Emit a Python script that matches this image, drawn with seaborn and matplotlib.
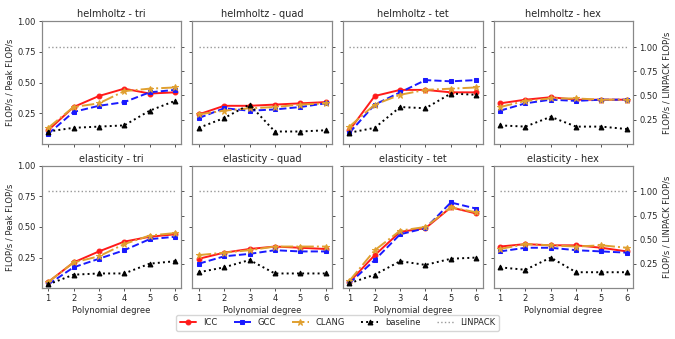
import pandas as pd
import matplotlib
matplotlib.use("Agg")
import matplotlib.pyplot as plt
import seaborn as sns

# polynomial degrees on the x axis
degrees = [1, 2, 3, 4, 5, 6]

panels = [
    "helmholtz - tri", "helmholtz - quad", "helmholtz - tet", "helmholtz - hex",
    "elasticity - tri", "elasticity - quad", "elasticity - tet", "elasticity - hex",
]

# FLOP/s / Peak FLOP/s, one row per panel
icc = [
    [0.11, 0.30, 0.39, 0.45, 0.41, 0.42],
    [0.24, 0.31, 0.31, 0.32, 0.33, 0.34],
    [0.11, 0.39, 0.44, 0.44, 0.42, 0.42],
    [0.33, 0.36, 0.38, 0.36, 0.36, 0.36],
    [0.05, 0.21, 0.30, 0.38, 0.42, 0.44],
    [0.24, 0.29, 0.32, 0.34, 0.33, 0.32],
    [0.05, 0.27, 0.46, 0.49, 0.66, 0.61],
    [0.34, 0.36, 0.35, 0.35, 0.33, 0.30],
]
gcc = [
    [0.08, 0.26, 0.31, 0.34, 0.42, 0.44],
    [0.21, 0.29, 0.27, 0.28, 0.30, 0.33],
    [0.09, 0.32, 0.42, 0.52, 0.51, 0.52],
    [0.27, 0.33, 0.36, 0.35, 0.36, 0.36],
    [0.03, 0.17, 0.24, 0.31, 0.40, 0.42],
    [0.20, 0.26, 0.28, 0.31, 0.30, 0.30],
    [0.04, 0.23, 0.44, 0.49, 0.70, 0.65],
    [0.30, 0.33, 0.33, 0.31, 0.30, 0.29],
]
clang = [
    [0.13, 0.30, 0.33, 0.43, 0.45, 0.46],
    [0.24, 0.27, 0.29, 0.30, 0.32, 0.33],
    [0.14, 0.32, 0.40, 0.44, 0.45, 0.46],
    [0.30, 0.35, 0.37, 0.37, 0.36, 0.36],
    [0.05, 0.21, 0.26, 0.36, 0.43, 0.45],
    [0.27, 0.29, 0.31, 0.34, 0.34, 0.34],
    [0.06, 0.31, 0.47, 0.50, 0.66, 0.62],
    [0.32, 0.36, 0.35, 0.34, 0.35, 0.33],
]
baseline = [
    [0.10, 0.13, 0.14, 0.15, 0.27, 0.35],
    [0.13, 0.21, 0.32, 0.10, 0.10, 0.11],
    [0.09, 0.13, 0.30, 0.29, 0.41, 0.40],
    [0.15, 0.14, 0.22, 0.14, 0.14, 0.12],
    [0.03, 0.11, 0.12, 0.12, 0.20, 0.22],
    [0.13, 0.17, 0.23, 0.12, 0.12, 0.12],
    [0.04, 0.11, 0.22, 0.19, 0.24, 0.25],
    [0.17, 0.15, 0.25, 0.13, 0.13, 0.13],
]
linpack_ratio = 0.79  # LINPACK FLOP/s / Peak FLOP/s

series = [
    ("ICC", icc, "#ff1a1a", "-", "o", 3.5),
    ("GCC", gcc, "#1a1aff", "--", "s", 3.5),
    ("CLANG", clang, "#e0a030", "-.", "*", 4.5),
    ("baseline", baseline, "black", ":", "^", 3.5),
]

rows = []
for name, vals, *_ in series:
    for p, panel in enumerate(panels):
        for d, v in zip(degrees, vals[p]):
            rows.append({"panel": panel, "compiler": name, "degree": d, "value": v})
df = pd.DataFrame(rows)

sns.set_style("ticks")
plt.rcParams["font.family"] = ["DejaVu Sans"]

fs = 6
fig, axes = plt.subplots(2, 4, figsize=(6.75, 3.39), dpi=100)
fig.subplots_adjust(left=0.062, right=0.938, top=0.937, bottom=0.150,
                    wspace=0.08, hspace=0.18)

for i, (ax, panel) in enumerate(zip(axes.flat, panels)):
    r, c = divmod(i, 4)
    ax2 = ax.twinx()
    sns.lineplot(x=degrees, y=[1.0] * len(degrees), ax=ax2, color="#999999",
                 linestyle=":", linewidth=1, legend=False)
    sub = df[df["panel"] == panel]
    for name, vals, color, ls, mk, ms in series:
        s = sub[sub["compiler"] == name]
        sns.lineplot(data=s, x="degree", y="value", ax=ax, color=color,
                     linestyle=ls, marker=mk, markersize=ms, linewidth=1.4,
                     markeredgecolor=color, label=name, legend=False)
    ax.set_zorder(ax2.get_zorder() + 1)
    ax.patch.set_visible(False)

    ax.set_ylim(0, 1.0)
    ax2.set_ylim(0, 1.0 / linpack_ratio)
    ax.set_yticks([0.25, 0.5, 0.75, 1.0])
    ax2.set_yticks([0.25, 0.5, 0.75, 1.0])
    ax.set_xticks(degrees)
    ax.set_xlim(0.75, 6.25)
    ax.set_title(panel, fontsize=7, pad=3)
    ax.tick_params(labelsize=fs, length=2.5, width=0.7, color="#555555", pad=2)
    ax2.tick_params(labelsize=fs, length=2.5, width=0.7, color="#555555", pad=2)
    for sp in list(ax.spines.values()) + list(ax2.spines.values()):
        sp.set_color("#888888")
        sp.set_linewidth(0.8)

    if c == 0:
        ax.set_ylabel("FLOP/s / Peak FLOP/s", fontsize=fs, labelpad=2)
    else:
        ax.set_ylabel("")
        ax.set_yticklabels([])
    if c == 3:
        ax2.set_ylabel("FLOP/s / LINPACK FLOP/s", fontsize=fs, labelpad=3)
    else:
        ax2.set_ylabel("")
        ax2.set_yticklabels([])
    if r == 1:
        ax.set_xlabel("Polynomial degree", fontsize=fs, labelpad=2)
    else:
        ax.set_xlabel("")
        ax.set_xticklabels([])

h1, l1 = axes[0, 0].get_legend_handles_labels()
lp = plt.Line2D([], [], color="#999999", linestyle=":", linewidth=1)
fig.legend(h1 + [lp], l1 + ["LINPACK"], loc="center", bbox_to_anchor=(0.5, 0.048),
           ncol=5, fontsize=fs, frameon=True, handlelength=2.0,
           columnspacing=2.0, borderpad=0.4)

plt.savefig("out.png", dpi=100)
